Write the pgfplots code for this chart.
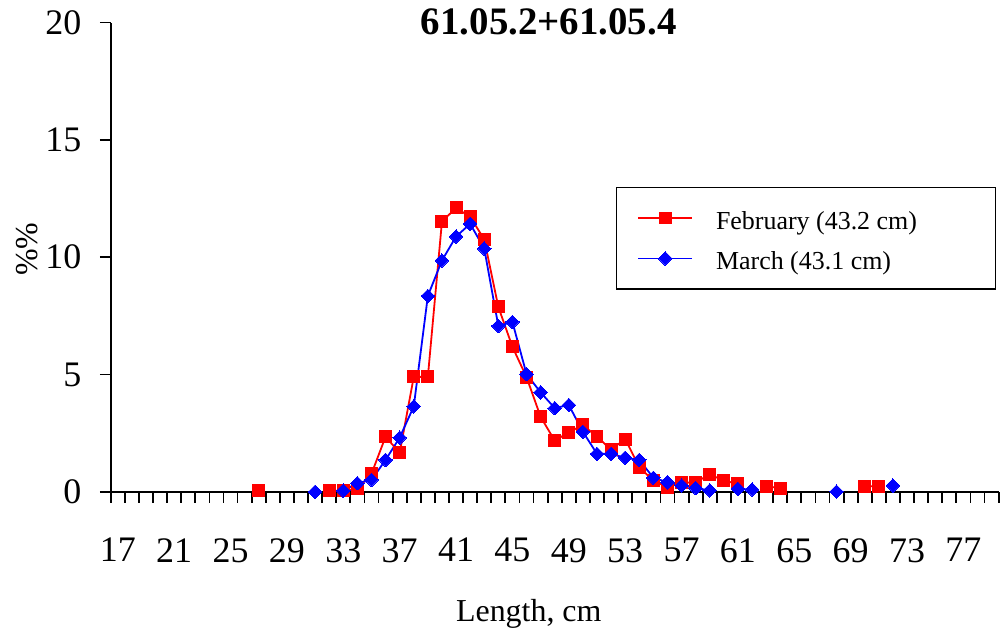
\documentclass[border=0pt]{standalone}
\usepackage{fontspec}
\setmainfont{Liberation Serif}
\usepackage{pgfplots}
\pgfplotsset{compat=1.18}
\begin{document}
\begin{tikzpicture}
\begin{axis}[
  scale only axis,
  width=890pt, height=470.4pt,
  xmin=16.5, xmax=79.5, ymin=0, ymax=20,
  axis lines=left,
  axis line style={-, line width=1.8pt},
  clip=false,
  unbounded coords=jump,
  /pgf/number format/assume math mode=true,
  tick align=outside,
  major tick length=11pt,
  tick style={line width=1.8pt, black},
  xtick={16.5,17.5,...,79.6},
  xticklabels={},
  extra x ticks={17,21,25,29,33,37,41,45,49,53,57,61,65,69,73,77},
  extra x tick labels={17,21,25,29,33,37,41,45,49,53,57,61,65,69,73,77},
  extra x tick style={major tick length=0pt, xticklabel style={yshift=-43pt}},
  ytick={0,5,10,15,20},
  ticklabel style={font=\fontsize{36}{40}\selectfont},
  yticklabel style={xshift=-15pt},
  title={61.05.2+61.05.4},
  title style={font=\bfseries\fontsize{39}{44}\selectfont, at={(axis description cs:0.4933,0.9888)}, anchor=center},
  xlabel={Length, cm},
  xlabel style={font=\fontsize{32}{38}\selectfont, at={(axis description cs:0.4708,-0.2594)}, anchor=center},
  ylabel={\%\%},
  ylabel style={font=\fontsize{32}{38}\selectfont, at={(axis description cs:-0.0944,0.517)}, anchor=center},
  legend style={at={(axis description cs:0.5685,0.6505)}, anchor=north west, draw=black, line width=1.5pt,
    inner xsep=0pt, inner ysep=18pt, font=\fontsize{26}{30}\selectfont,
    nodes={inner sep=0pt}, column sep=0pt, row sep=15pt},
  legend cell align=left,
  legend image code/.code={\draw[#1, line width=1.8pt, mark repeat=2, mark phase=2] plot coordinates {(22pt,0pt) (49pt,0pt) (76pt,0pt)}; \path[draw=none] (0pt,0pt) -- (100pt,0pt);},
]
\addplot[color=red, line width=1.8pt, mark=square*, mark size=6pt, mark options={solid, fill=red, line width=0pt}] coordinates {
(27,0.05) (28,nan) (32,0.05) (33,0.05) (34,0.13) (35,0.77) (36,2.35) (37,1.66) (38,4.9) (39,4.9)
(40,11.52) (41,12.1) (42,11.72) (43,10.76) (44,7.88) (45,6.18) (46,4.89) (47,3.2) (48,2.18) (49,2.54)
(50,2.85) (51,2.35) (52,1.80) (53,2.25) (54,1.05) (55,0.48) (56,0.2) (57,0.38) (58,0.41) (59,0.74)
(60,0.48) (61,0.34) (62,nan) (63,0.24) (64,0.16) (65,nan) (70,0.24) (71,0.24)
};
\addlegendentry{\rule{0pt}{24pt}\makebox[280pt][l]{February (43.2 cm)}}
\addplot[color=blue, line width=1.8pt, mark=square*, mark size=4.8pt, mark options={solid, fill=blue, line width=0pt, rotate=45}] coordinates {
(31,0.0) (32,nan) (33,0.05) (34,0.37) (35,0.51) (36,1.36) (37,2.31) (38,3.64) (39,8.35)
(40,9.86) (41,10.88) (42,11.42) (43,10.37) (44,7.07) (45,7.24) (46,5.02) (47,4.24) (48,3.57) (49,3.70)
(50,2.56) (51,1.62) (52,1.62) (53,1.45) (54,1.36) (55,0.6) (56,0.41) (57,0.27) (58,0.16) (59,0.06)
(60,nan) (61,0.13) (62,0.1) (63,nan) (68,0.01) (69,nan) (72,0.27)
};
\addlegendentry{\rule{0pt}{24pt}\makebox[280pt][l]{March (43.1 cm)}}
\end{axis}
\path (-111pt,-137pt) rectangle (891pt,493pt);
\end{tikzpicture}
\end{document}
